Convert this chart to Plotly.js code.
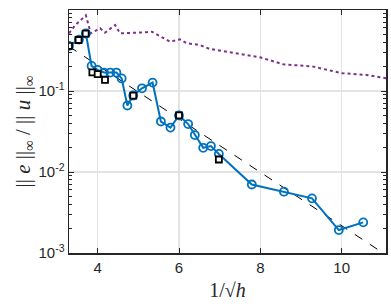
<!DOCTYPE html>
<html>
<head>
<meta charset="utf-8">
<script src="https://cdn.plot.ly/plotly-3.0.1.min.js"></script>
<style>
  html, body { margin: 0; padding: 0; background: #fff; }
  #chart { width: 391px; height: 308px; }
</style>
</head>
<body>
<div id="chart"></div>
<script>
// --- error curve (blue, circles) ---
const invSqrtH = [3.295, 3.54, 3.71, 3.85, 3.995, 4.155, 4.31, 4.46, 4.59, 4.73, 4.875, 5.09, 5.35,
                  5.555, 5.79, 6.0, 6.225, 6.39, 6.595, 6.785, 6.98, 7.79, 8.58, 9.27, 9.93, 10.53];
const relErr = [0.36, 0.432, 0.513, 0.204, 0.182, 0.169, 0.169, 0.169, 0.143, 0.0662, 0.088, 0.108, 0.127,
                0.042, 0.0354, 0.0499, 0.0391, 0.0286, 0.0199, 0.0209, 0.0167, 0.00701, 0.00571, 0.00473, 0.00192, 0.00239];

// --- selected runs (black squares) ---
const sqX = [3.295, 3.53, 3.705, 3.87, 4.0, 4.18, 4.875, 6.0, 6.98];
const sqY = [0.36, 0.426, 0.51, 0.170, 0.162, 0.137, 0.0875, 0.0499, 0.01426];

// --- reference curve (purple, dotted) ---
const refX = [3.295, 3.45, 3.71, 3.83, 4.06, 4.18, 4.43, 4.55, 5.2, 5.33, 5.78, 6.02, 6.19, 6.51, 6.76,
              7.99, 8.56, 9.3, 10.0, 10.61, 11.1];
const refY = [0.515, 0.653, 0.86, 0.515, 0.594, 0.525, 0.653, 0.515, 0.531, 0.54, 0.406, 0.435, 0.388, 0.37, 0.33,
              0.261, 0.214, 0.2, 0.166, 0.158, 0.1435];

// --- slope guide (black dashed) ---
const slopeX = [3.295, 11.1];
const slopeY = [0.355, 0.00094];

const yTicks = [0.001, 0.01, 0.1, 1];
const yTickText = ['10<sup>-3</sup>', '10<sup>-2</sup>', '10<sup>-1</sup>', '10<sup>0</sup>'];

const axisCol = '#262626';

const traces = [
    {
        x: refX, y: refY, mode: 'lines', type: 'scatter',
        line: { color: '#7E2F8E', width: 2, dash: 'dot' }
    },
    {
        x: slopeX, y: slopeY, mode: 'lines', type: 'scatter',
        line: { color: '#000000', width: 1, dash: 'dash' }
    },
    {
        x: invSqrtH, y: relErr, mode: 'lines+markers', type: 'scatter',
        line: { color: '#0072BD', width: 2 },
        marker: { symbol: 'circle-open', size: 8, color: '#0072BD', line: { width: 1.8, color: '#0072BD' } }
    },
    {
        x: sqX, y: sqY, mode: 'markers', type: 'scatter',
        marker: { symbol: 'square', size: 6, color: '#ffffff', line: { width: 1.8, color: '#000000' } }
    }
];

const layout = {
    width: 391, height: 308,
    margin: { l: 69, r: 5, t: 10, b: 55 },
    showlegend: false,
    paper_bgcolor: '#ffffff',
    plot_bgcolor: '#ffffff',
    font: { family: 'Liberation Sans, Arial, sans-serif', size: 14, color: axisCol },
    xaxis: {
        range: [3.295, 11.09],
        tickvals: [4, 6, 8, 10],
        ticks: 'inside', ticklen: 5, tickwidth: 1, tickcolor: axisCol,
        showline: true, linecolor: axisCol, linewidth: 1.5, mirror: 'ticks',
        showgrid: true, gridcolor: '#e3e3e3', gridwidth: 1.5,
        zeroline: false,
        tickfont: { size: 15, color: axisCol },
        title: { text: '1/√<i>h</i>', font: { family: 'Liberation Serif, serif', size: 20, color: axisCol }, standoff: 8 }
    },
    yaxis: {
        type: 'log',
        range: [-3, 0],
        tickmode: 'array', tickvals: yTicks, ticktext: yTickText,
        ticks: 'inside', ticklen: 5, tickwidth: 1, tickcolor: axisCol,
        minor: { ticks: 'inside', ticklen: 3, tickwidth: 1, tickcolor: axisCol, dtick: 'D1', showgrid: false },
        showline: true, linecolor: axisCol, linewidth: 1.5, mirror: 'ticks',
        showgrid: true, gridcolor: '#e3e3e3', gridwidth: 1.5,
        zeroline: false,
        tickfont: { size: 15, color: axisCol },
        title: {
            text: '|| <i>e</i> ||<sub>∞</sub> / || <i>u</i> ||<sub>∞</sub>',
            font: { family: 'Liberation Serif, serif', size: 21, color: axisCol }, standoff: 2
        }
    }
};

Plotly.newPlot('chart', traces, layout, { displayModeBar: false, staticPlot: true });
</script>
</body>
</html>
